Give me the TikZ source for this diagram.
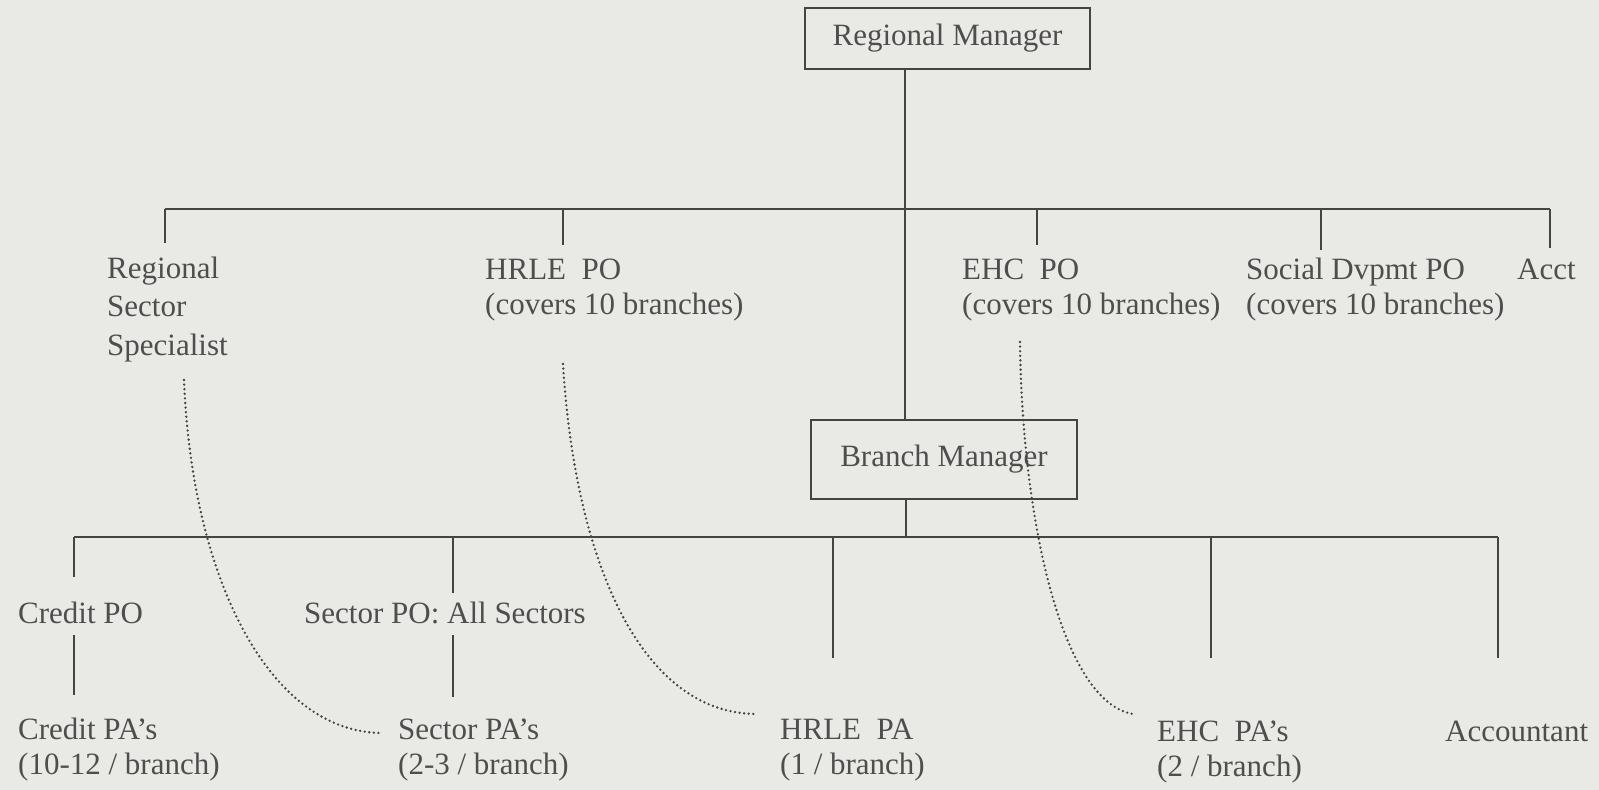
\documentclass[tikz,border=0pt]{standalone}
\usepackage{fontspec}
\setmainfont{Liberation Serif}
\definecolor{paper}{RGB}{233,233,230}
\definecolor{ink}{RGB}{68,68,68}
\definecolor{txt}{RGB}{78,78,78}
\begin{document}
\begin{tikzpicture}[x=1pt,y=-1pt,
  conn/.style={draw=ink,line width=2pt},
  boxnode/.style={draw=ink,line width=2.4pt,inner sep=0pt,font=\fontsize{31}{36}\selectfont,text=txt},
  lbl/.style={anchor=north west,inner sep=0pt,align=left,font=\fontsize{31}{35}\selectfont,text=txt},
  dots/.style={draw=ink,line width=2.6pt,line cap=round,dash pattern=on 0pt off 4.6pt}]
\fill[paper] (0,0) rectangle (1599,790);
\useasboundingbox (0,0) rectangle (1599,790);

% boxes
\node[boxnode,minimum width=285pt,minimum height=61pt] (rm) at (947.5,38.5) {Regional Manager};
\node[boxnode,minimum width=266pt,minimum height=79pt] (bm) at (944,459.5) {Branch Manager};

% upper labels
\node[lbl,font=\fontsize{31}{38.5}\selectfont] (rss) at (107,251) {\strut Regional\\Sector\\Specialist};
\node[lbl] (hrlepo) at (485,254.5) {\strut HRLE\ \ PO\\(covers 10 branches)};
\node[lbl] (ehcpo) at (962,254.5) {\strut EHC\ \ PO\\(covers 10 branches)};
\node[lbl] (sdpo) at (1246,254.5) {\strut Social Dvpmt PO\\(covers 10 branches)};
\node[lbl] (acct) at (1517,254.5) {\strut Acct};

% lower labels
\node[lbl] (creditpo) at (18,598.5) {\strut Credit PO};
\node[lbl] (sectorpo) at (304,598.5) {\strut Sector PO: All Sectors};
\node[lbl] (creditpa) at (18,714.5) {\strut Credit PA’s\\(10-12 / branch)};
\node[lbl] (sectorpa) at (398,714.5) {\strut Sector PA’s\\(2-3 / branch)};
\node[lbl] (hrlepa) at (780,714.5) {\strut HRLE\ \ PA\\(1 / branch)};
\node[lbl] (ehcpa) at (1157,716.5) {\strut EHC\ \ PA’s\\(2 / branch)};
\node[lbl] (accountant) at (1445,716.5) {\strut Accountant};

% coordinates
\coordinate (mx) at (905,0);
\coordinate (ubL) at (165,209);
\coordinate (ubR) at (1550,209);
\coordinate (lbL) at (74,537);
\coordinate (lbR) at (1498,537);
\coordinate (t1) at (165,243);
\coordinate (t2) at (563,245);
\coordinate (t3) at (1037,245);
\coordinate (t4) at (1321,250);
\coordinate (t5) at (1550,248);
\coordinate (b1) at (74,577);
\coordinate (b2) at (453,593);
\coordinate (b3) at (833,658);
\coordinate (b4) at (1211,658);
\coordinate (b5) at (1498,658);
\coordinate (c1a) at (74,635);
\coordinate (c1b) at (74,695);
\coordinate (c2a) at (453,635);
\coordinate (c2b) at (453,697);

% main spine
\draw[conn] (mx |- rm.south) -- (mx |- bm.north);
\draw[conn] (906,0 |- bm.south) -- (906,0 |- lbL);

% upper bus and ticks
\draw[conn] (ubL) -- (ubR);
\foreach \t in {t1,t2,t3,t4,t5} \draw[conn] (\t |- ubL) -- (\t);

% lower bus and ticks
\draw[conn] (lbL) -- (lbR);
\foreach \b in {b1,b2,b3,b4,b5} \draw[conn] (\b |- lbL) -- (\b);

% PO to PA lines
\draw[conn] (c1a) -- (c1b);
\draw[conn] (c2a) -- (c2b);

% dotted links
\coordinate (d1s) at (184,380);
\coordinate (d1e) at (383,733);
\coordinate (d2s) at (563,364);
\coordinate (d2e) at (755,714);
\coordinate (d3s) at (1020,342);
\coordinate (d3e) at (1133,714);
\draw[dots] (d1s) .. controls (192,580) and (270,733) .. (d1e);
\draw[dots] (d2s) .. controls (575,560) and (640,712) .. (d2e);
\draw[dots] (d3s) .. controls (1022,520) and (1062,702) .. (d3e);
\end{tikzpicture}
\end{document}
